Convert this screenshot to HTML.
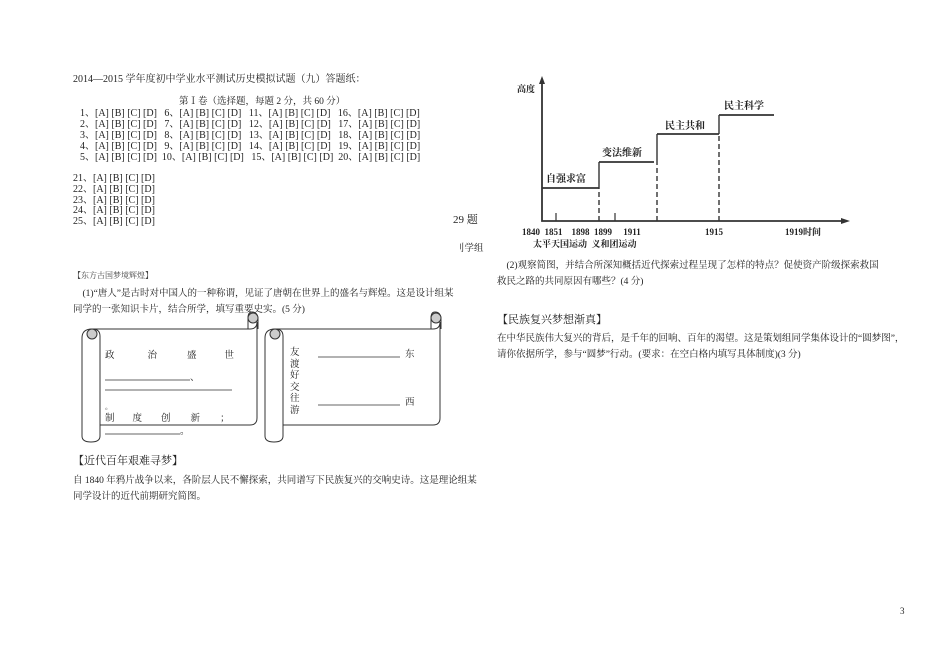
<!DOCTYPE html>
<html><head><meta charset="utf-8"><style>
body{margin:0;width:950px;height:671px;background:#fff;position:relative;overflow:hidden;font-family:"Liberation Serif","Noto Serif CJK SC",serif;color:#222}
.t{position:absolute;white-space:nowrap;font-size:9.5px;line-height:11px}
.h{font-size:11px}
.b{font-weight:bold}
</style></head><body>
<div class="t" style="left:73px;top:74px;font-size:10px">2014—2015 学年度初中学业水平测试历史模拟试题（九）答题纸：</div>
<div class="t" style="left:179px;top:97px">第Ⅰ卷（选择题，每题 2 分，共 60 分）</div>
<div class="t" style="left:80px;top:108px;line-height:11px;font-size:10px">1、[A] [B] [C] [D]&nbsp;&nbsp; 6、[A] [B] [C] [D]&nbsp;&nbsp; 11、[A] [B] [C] [D]&nbsp;&nbsp; 16、[A] [B] [C] [D]<br>2、[A] [B] [C] [D]&nbsp;&nbsp; 7、[A] [B] [C] [D]&nbsp;&nbsp; 12、[A] [B] [C] [D]&nbsp;&nbsp; 17、[A] [B] [C] [D]<br>3、[A] [B] [C] [D]&nbsp;&nbsp; 8、[A] [B] [C] [D]&nbsp;&nbsp; 13、[A] [B] [C] [D]&nbsp;&nbsp; 18、[A] [B] [C] [D]<br>4、[A] [B] [C] [D]&nbsp;&nbsp; 9、[A] [B] [C] [D]&nbsp;&nbsp; 14、[A] [B] [C] [D]&nbsp;&nbsp; 19、[A] [B] [C] [D]<br>5、[A] [B] [C] [D]&nbsp; 10、[A] [B] [C] [D]&nbsp;&nbsp; 15、[A] [B] [C] [D]&nbsp; 20、[A] [B] [C] [D]</div>
<div class="t" style="left:73px;top:174px;line-height:10.8px;font-size:10px">21、[A] [B] [C] [D]<br>22、[A] [B] [C] [D]<br>23、[A] [B] [C] [D]<br>24、[A] [B] [C] [D]<br>25、[A] [B] [C] [D]</div>
<div class="t" style="left:453px;top:215px;font-size:11px">29 题</div>
<div class="t" style="left:455px;top:244px">刂学组</div>
<div class="t" style="left:73px;top:270px;font-size:8px;color:#444">【东方古国梦境辉煌】</div>
<div class="t" style="left:73px;top:286px;line-height:16px">&nbsp;&nbsp;&nbsp;&nbsp;(1)“唐人”是古时对中国人的一种称谓，见证了唐朝在世界上的盛名与辉煌。这是设计组某<br>同学的一张知识卡片，结合所学，填写重要史实。(5 分)</div>

<svg style="position:absolute;left:0;top:0" width="950" height="671">
<g fill="none" stroke="#333" stroke-width="1">
<path d="M92 329 H250 Q257 329 257 322 V418 Q257 425 250 425 H100"/>
<path d="M248 329 V318 Q248 312 252 312 Q258 312 258 320 V329"/>
<circle cx="253" cy="318" r="5" fill="#ccc" stroke="#333"/>
<path d="M92 329 Q82 329 82 338 V436 Q82 442 91 442 Q100 442 100 436 V336 Q100 329 92 329"/>
<circle cx="92" cy="334" r="5" fill="#ccc"/>
<path d="M275 329 H433 Q440 329 440 322 V418 Q440 425 433 425 H283"/>
<path d="M431 329 V318 Q431 312 435 312 Q441 312 441 320 V329"/>
<circle cx="436" cy="318" r="5" fill="#ccc" stroke="#333"/>
<path d="M275 329 Q265 329 265 338 V436 Q265 442 274 442 Q283 442 283 436 V336 Q283 329 275 329"/>
<circle cx="275" cy="334" r="5" fill="#ccc"/>
<path d="M105 380 H190 M105 390 H232 M105 434 H180 M318 357 H400 M318 405 H400" stroke-width="0.8"/>
</g>
<g stroke="#333" stroke-width="1.8" fill="none">
<path d="M542 80 V221 H845"/>
<path d="M542 188 H599 M599 162 H654 M657 134 H719 M719 115 H774"/>
<path d="M599 188 V162 M657 134 V162 M719 115 V134" stroke-width="1.4"/>
<path d="M599 221 V188 M657 221 V162 M719 221 V134" stroke-dasharray="5,3" stroke-width="1.4"/>
<path d="M556 221 V213 M615 221 V213" stroke-width="1.2"/>
</g>
<path d="M542 76 L539 84 L545 84Z M850 221 L841 218 L841 224Z" fill="#333"/>
</svg>
<div class="t" style="left:105px;top:351px;word-spacing:0">政<span style="margin-left:33px">治</span><span style="margin-left:30px">盛</span><span style="margin-left:28px">世</span></div>
<div class="t" style="left:190px;top:373px">、</div>
<div class="t" style="left:105px;top:402px;font-size:7px">。</div>
<div class="t" style="left:105px;top:414px">制<span style="margin-left:18px">度</span><span style="margin-left:19px">创</span><span style="margin-left:20px">新</span><span style="margin-left:20px">；</span></div>
<div class="t" style="left:180px;top:427px">。</div>
<div class="t" style="left:290px;top:348px;line-height:11.6px">友<br>渡<br>好<br>交<br>往<br>游</div>
<div class="t" style="left:405px;top:350px">东</div>
<div class="t" style="left:405px;top:398px">西</div>
<div class="t h" style="left:73px;top:456px">【近代百年艰难寻梦】</div>
<div class="t" style="left:73px;top:473px;line-height:16px">自 1840 年鸦片战争以来，各阶层人民不懈探索，共同谱写下民族复兴的交响史诗。这是理论组某<br>同学设计的近代前期研究简图。</div>

<div class="t b" style="left:517px;top:84px;font-size:9px">高度</div>
<div class="t b" style="left:546px;top:174px;font-size:10px">自强求富</div>
<div class="t b" style="left:602px;top:148px;font-size:10px">变法维新</div>
<div class="t b" style="left:665px;top:121px;font-size:10px">民主共和</div>
<div class="t b" style="left:724px;top:101px;font-size:10px">民主科学</div>
<div class="t b" style="left:522px;top:227px;font-size:9px">1840&nbsp;&nbsp;1851&nbsp;&nbsp;&nbsp;&nbsp;1898&nbsp;&nbsp;1899&nbsp;&nbsp;&nbsp;&nbsp;&nbsp;1911</div>
<div class="t b" style="left:705px;top:227px;font-size:9px">1915</div>
<div class="t b" style="left:785px;top:227px;font-size:9px">1919时间</div>
<div class="t b" style="left:533px;top:239px;font-size:9px">太平天国运动&nbsp; 义和团运动</div>
<div class="t" style="left:497px;top:258px;line-height:16px">&nbsp;&nbsp;&nbsp;&nbsp;(2)观察简图，并结合所深知概括近代探索过程呈现了怎样的特点？促使资产阶级探索救国<br>救民之路的共同原因有哪些？(4 分)</div>
<div class="t h" style="left:497px;top:315px">【民族复兴梦想渐真】</div>
<div class="t" style="left:497px;top:331px;line-height:16px">在中华民族伟大复兴的背后，是千年的回响、百年的渴望。这是策划组同学集体设计的“圆梦图”，<br>请你依据所学，参与“圆梦”行动。(要求：在空白格内填写具体制度)(3 分)</div>
<div class="t" style="left:900px;top:606px;font-size:9px">3</div>
</body></html>
